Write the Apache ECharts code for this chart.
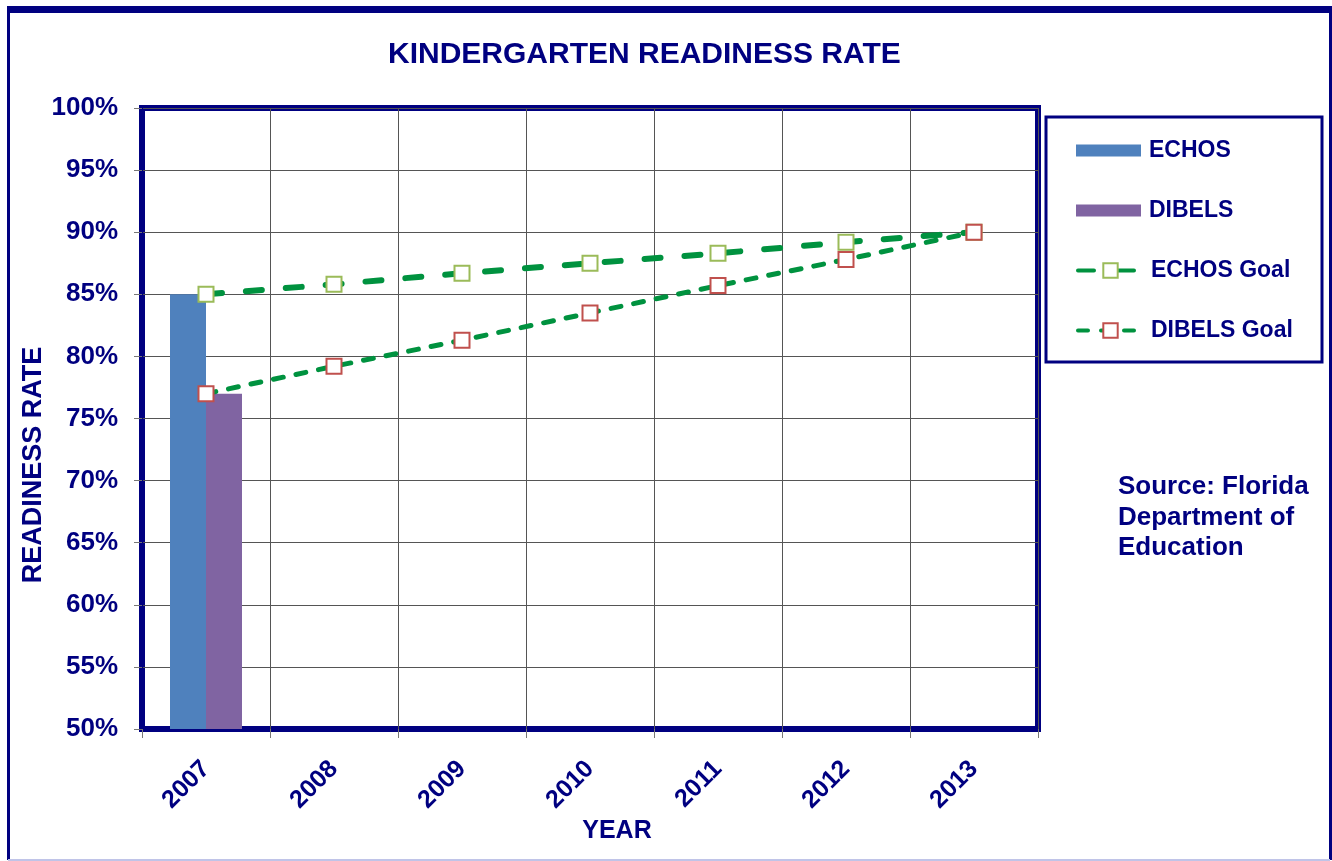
<!DOCTYPE html>
<html>
<head>
<meta charset="utf-8">
<script src="https://cdn.jsdelivr.net/npm/echarts@6/dist/echarts.min.js"></script>
<style>html,body{margin:0;padding:0;background:#fff}#c{width:1332px;height:861px}</style>
</head>
<body>
<div id="c"></div>
<script>
const years = ['2007','2008','2009','2010','2011','2012','2013'];
const echos = [85, null, null, null, null, null, null];
const dibels = [77, null, null, null, null, null, null];
const echosGoal = [85, 85.8, 86.7, 87.5, 88.3, 89.2, 90];
const dibelsGoal = [77, 79.2, 81.3, 83.5, 85.7, 87.8, 90];
const yTicks = { min: 50, max: 100, interval: 5 };

const NAVY = '#000080';
const FONT = '"Liberation Sans", Arial, sans-serif';
const legendText = { color: NAVY, fontFamily: FONT, fontWeight: 'bold', fontSize: 23, padding: [0,0,0,3] };
const chart = echarts.init(document.getElementById('c'));
chart.setOption({
  backgroundColor: '#fff',
  animation: false,
  title: {
    text: 'KINDERGARTEN READINESS RATE',
    left: 383, top: 35,
    textStyle: { color: NAVY, fontFamily: FONT, fontWeight: 'bold', fontSize: 30 }
  },
  grid: {
    left: 142, top: 108, width: 896, height: 621,
    show: true, borderColor: NAVY, borderWidth: 6, backgroundColor: 'transparent'
  },
  legend: [
    {
      orient: 'vertical', left: 1071, top: 134,
      itemWidth: 65, itemHeight: 12, itemGap: 37,
      icon: 'rect',
      textStyle: legendText,
      data: ['ECHOS', 'DIBELS']
    },
    {
      orient: 'vertical', left: 1071, top: 254,
      itemWidth: 65, itemHeight: 18, itemGap: 37,
      lineStyle: { width: 4 },
      itemStyle: { borderWidth: 2 },
      textStyle: legendText,
      data: ['ECHOS Goal', 'DIBELS Goal']
    }
  ],
  xAxis: {
    type: 'category',
    data: years,
    boundaryGap: true,
    axisLine: { show: true, lineStyle: { color: NAVY, width: 1 } },
    axisTick: { show: true, length: 9, lineStyle: { color: '#777' } },
    splitLine: { show: true, lineStyle: { color: '#555', width: 1 } },
    axisLabel: { rotate: 45, margin: 36, color: NAVY, fontFamily: FONT, fontWeight: 'bold', fontSize: 25 }
  },
  yAxis: {
    type: 'value',
    min: yTicks.min, max: yTicks.max, interval: yTicks.interval,
    axisLine: { show: true, lineStyle: { color: NAVY, width: 1 } },
    axisTick: { show: true, length: 8, lineStyle: { color: '#777' } },
    splitLine: { show: true, lineStyle: { color: '#555', width: 1 } },
    axisLabel: { margin: 24, color: NAVY, fontFamily: FONT, fontWeight: 'bold', fontSize: 26,
      formatter: v => v + '%' }
  },
  series: [
    { name: 'ECHOS', type: 'bar', data: echos, barWidth: 36, barGap: '0%',
      itemStyle: { color: '#4F81BD' } },
    { name: 'DIBELS', type: 'bar', data: dibels, barWidth: 36, barGap: '0%',
      itemStyle: { color: '#8064A2' } },
    { name: 'ECHOS Goal', type: 'line', data: echosGoal, z: 5,
      symbol: 'rect', symbolSize: 15, showAllSymbol: true,
      lineStyle: { color: '#00923F', width: 6, type: [16, 24], cap: 'round' },
      itemStyle: { color: '#fff', borderColor: '#9BBB59', borderWidth: 2 } },
    { name: 'DIBELS Goal', type: 'line', data: dibelsGoal, z: 5,
      symbol: 'rect', symbolSize: 15, showAllSymbol: true,
      lineStyle: { color: '#00923F', width: 5, type: [10, 13], cap: 'round' },
      itemStyle: { color: '#fff', borderColor: '#C0504D', borderWidth: 2 } }
  ],
  graphic: [
    { type: 'rect', shape: { x: 8, y: 6, width: 1322, height: 7 }, style: { fill: NAVY }, silent: true },
    { type: 'rect', shape: { x: 7, y: 6, width: 3, height: 854 }, style: { fill: NAVY }, silent: true },
    { type: 'rect', shape: { x: 1329, y: 6, width: 3, height: 854 }, style: { fill: NAVY }, silent: true },
    { type: 'rect', shape: { x: 8, y: 859, width: 1322, height: 2 }, style: { fill: '#C0C4E8' }, silent: true },
    { type: 'rect', shape: { x: 1046, y: 117, width: 276, height: 245 },
      style: { fill: 'none', stroke: NAVY, lineWidth: 3 }, silent: true },
    { type: 'text', x: 34, y: 465, rotation: Math.PI / 2,
      style: { text: 'READINESS RATE', fill: NAVY, font: 'bold 27px ' + FONT, align: 'center', verticalAlign: 'middle' } },
    { type: 'text', x: 617, y: 831,
      style: { text: 'YEAR', fill: NAVY, font: 'bold 25px ' + FONT, align: 'center', verticalAlign: 'middle' } },
    { type: 'text', x: 1118, y: 472,
      style: { text: 'Source: Florida\nDepartment of\nEducation', fill: NAVY, font: 'bold 26px ' + FONT, lineHeight: 30.5, align: 'left', verticalAlign: 'top' } }
  ]
});
</script>
</body>
</html>
